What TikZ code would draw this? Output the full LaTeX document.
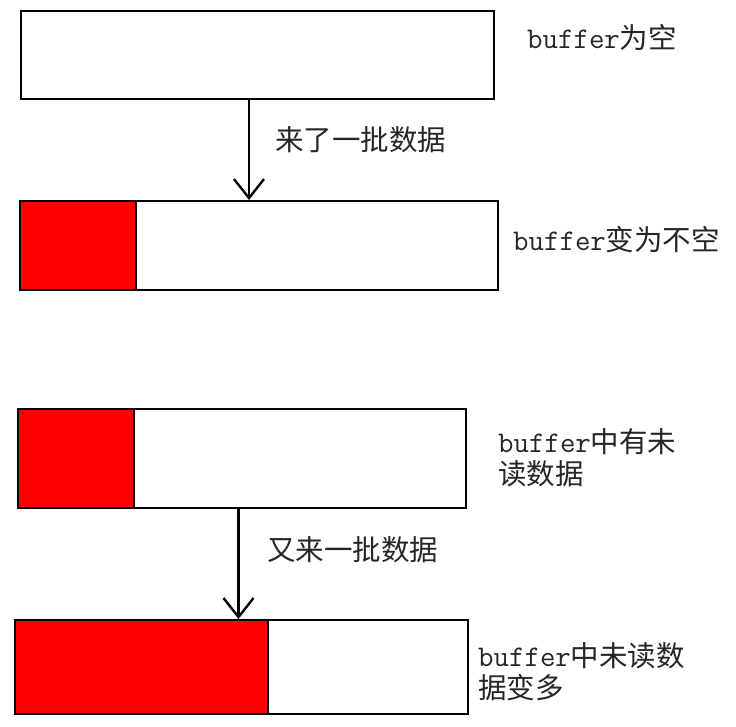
\documentclass[tikz,border=0pt]{standalone}
\usepackage{fontspec}
\newfontfamily\cjk{Noto Sans CJK SC}
\usetikzlibrary{arrows.meta}
\newcommand{\lat}[1]{{\ttfamily\fontsize{30}{32}\selectfont #1}}
\newcommand{\zh}[1]{{\cjk\fontsize{28.5}{32}\selectfont #1}}
\tikzset{
  bufbox/.style={draw=black, line width=2pt, fill=white, inner sep=0pt, anchor=north west},
  redpart/.style={draw=black, line width=2pt, fill=red, inner sep=0pt, anchor=north west},
  lbl/.style={inner sep=0pt, anchor=west, align=left, text=black!85, font=\fontsize{28.5}{32}\selectfont},
  arr/.style={line width=2.6pt, -{Straight Barb[length=19pt,width=30pt,line width=2.4pt]}}
}
\begin{document}
\begin{tikzpicture}[x=1pt,y=-1pt]
\useasboundingbox (0,0) rectangle (736,727);
\fill[white] (0,0) rectangle (736,727);
% boxes
\node[bufbox, minimum width=473pt, minimum height=88pt] (b1) at (20,10) {};
\node[bufbox, minimum width=478pt, minimum height=89pt] (b2) at (19,200) {};
\node[redpart, minimum width=116pt, minimum height=89pt] (r2) at (19,200) {};
\node[bufbox, minimum width=448pt, minimum height=99pt] (b3) at (17,408) {};
\node[redpart, minimum width=116pt, minimum height=99pt] (r3) at (17,408) {};
\node[bufbox, minimum width=453pt, minimum height=94pt] (b4) at (14,619) {};
\node[redpart, minimum width=253pt, minimum height=94pt] (r4) at (14,619) {};
% labels
\node[lbl] (l1) at (527,37) {\lat{buffer}\zh{为空}};
\node[lbl] (l2) at (513,240) {\lat{buffer}\zh{变为不空}};
\node[lbl] (l3) at (498,458) {\lat{buffer}\zh{中有未}\\\zh{读数据}};
\node[lbl] (l4) at (478,672) {\lat{buffer}\zh{中未读数}\\\zh{据变多}};
\node[lbl] (t1) at (275,140) {\zh{来了一批数据}};
\node[lbl] (t2) at (267,550) {\zh{又来一批数据}};
% arrows
\draw[arr] ([xshift=-8.5pt]b1.south) -- ([xshift=-8.5pt]b1.south |- b2.north);
\draw[arr] ([xshift=-3.5pt]b3.south) -- ([xshift=-3.5pt]b3.south |- b4.north);
\end{tikzpicture}
\end{document}
